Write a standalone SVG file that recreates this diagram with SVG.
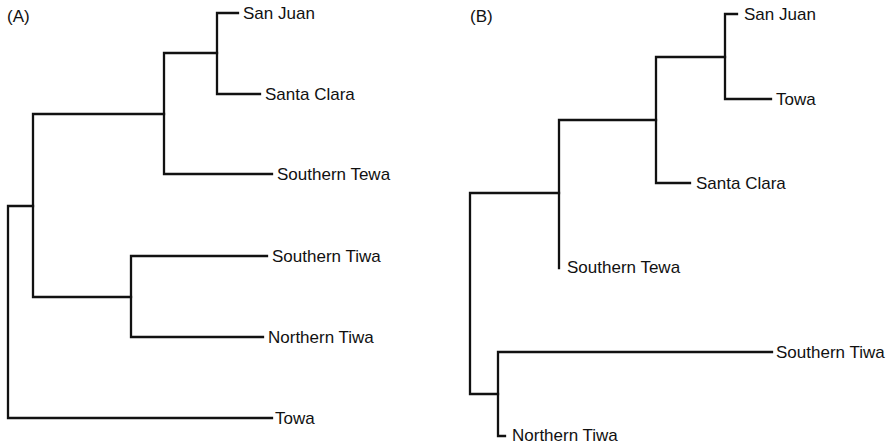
<svg xmlns="http://www.w3.org/2000/svg" width="891" height="445" viewBox="0 0 891 445">
<style>
  .edge { fill: none; stroke: #111; stroke-width: 2.3; stroke-linecap: square; stroke-linejoin: miter; }
  .lbl { font-family: "Liberation Sans", Arial, sans-serif; font-size: 17px; fill: #111; }
</style>
<rect width="891" height="445" fill="#fff"/>
<g id="connectors">
  <!-- Panel A -->
  <path class="edge" d="M238,13 H217 V94 H260"/>
  <path class="edge" d="M217,53 H164 V174 H272"/>
  <path class="edge" d="M164,114 H33 V297 H131"/>
  <path class="edge" d="M267,256 H131 V337 H263"/>
  <path class="edge" d="M33,206 H8 V418 H272"/>
  <!-- Panel B -->
  <path class="edge" d="M737,14 H725 V99 H771"/>
  <path class="edge" d="M725,57 H656 V183 H690"/>
  <path class="edge" d="M656,120 H559 V268"/>
  <path class="edge" d="M559,193 H470 V394 H498"/>
  <path class="edge" d="M772,352 H498 V436 H505"/>
</g>
<g id="panel-a-title"><text class="lbl" x="7" y="22">(A)</text></g>
<g id="panel-b-title"><text class="lbl" x="470" y="22">(B)</text></g>
<g id="a-san-juan"><text class="lbl" x="243" y="19">San Juan</text></g>
<g id="a-santa-clara"><text class="lbl" x="265" y="100">Santa Clara</text></g>
<g id="a-southern-tewa"><text class="lbl" x="277" y="180">Southern Tewa</text></g>
<g id="a-southern-tiwa"><text class="lbl" x="272" y="262">Southern Tiwa</text></g>
<g id="a-northern-tiwa"><text class="lbl" x="268" y="343">Northern Tiwa</text></g>
<g id="a-towa"><text class="lbl" x="275" y="424">Towa</text></g>
<g id="b-san-juan"><text class="lbl" x="744" y="20">San Juan</text></g>
<g id="b-towa"><text class="lbl" x="776" y="105">Towa</text></g>
<g id="b-santa-clara"><text class="lbl" x="696" y="189">Santa Clara</text></g>
<g id="b-southern-tewa"><text class="lbl" x="567" y="273">Southern Tewa</text></g>
<g id="b-southern-tiwa"><text class="lbl" x="776" y="358">Southern Tiwa</text></g>
<g id="b-northern-tiwa"><text class="lbl" x="512" y="441">Northern Tiwa</text></g>
</svg>
